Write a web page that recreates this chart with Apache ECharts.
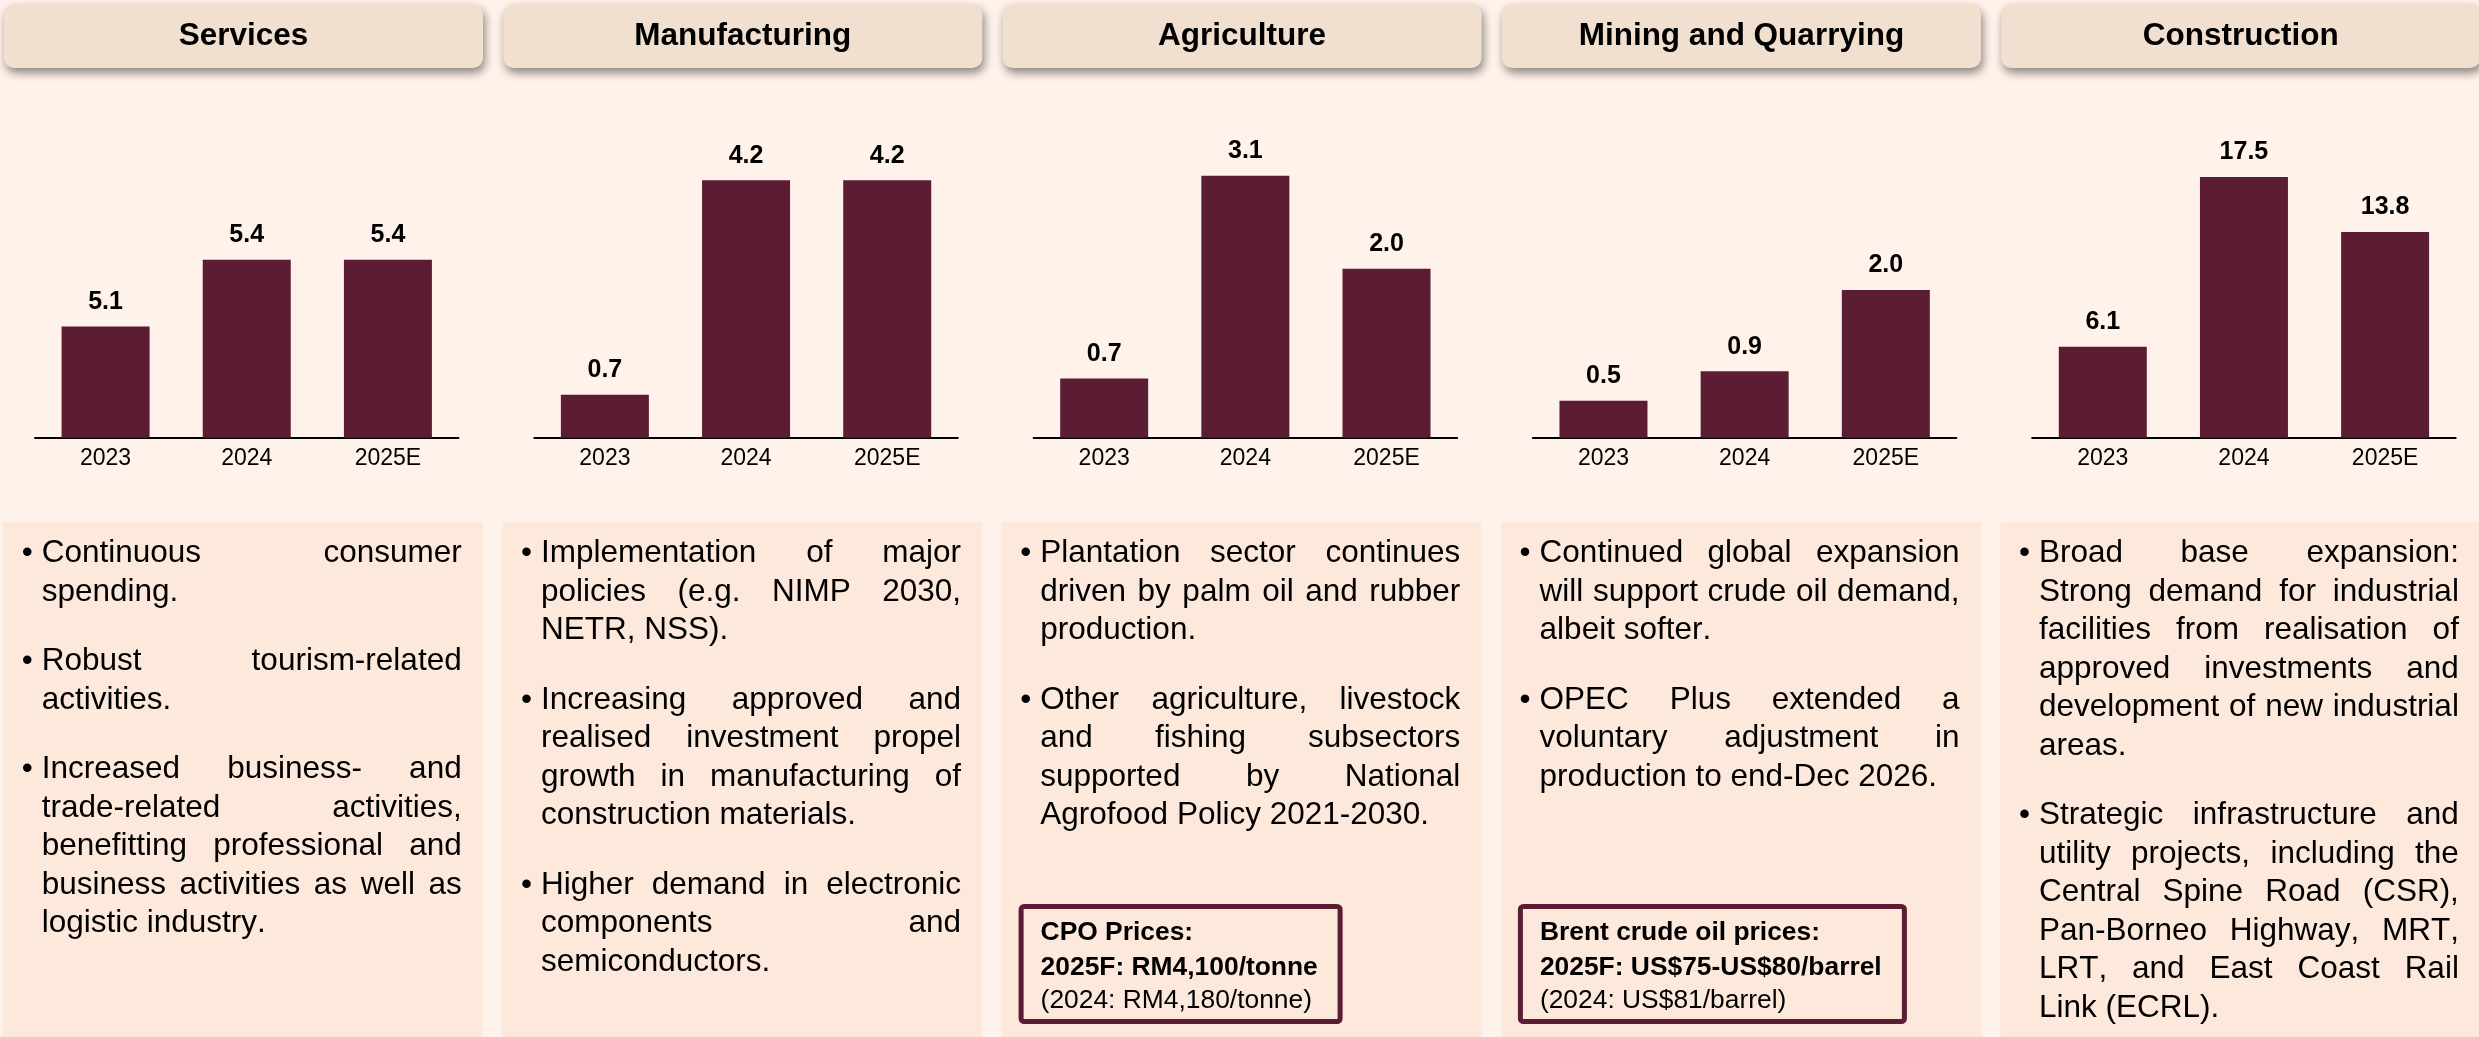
<!doctype html>
<html>
<head>
<meta charset="utf-8">
<title>Sector growth</title>
<script src="https://cdn.jsdelivr.net/npm/echarts@6/dist/echarts.min.js"></script>
<style>
    html, body { margin: 0; padding: 0; background: #FEF2EA; }
    #wrap { position: relative; width: 2479px; height: 1037px; overflow: hidden; }
    #chart { position: absolute; left: 0; top: 0; width: 2479px; height: 1037px; }
    .notes {
        position: absolute; width: 420px; top: 532px;
        font: 31.5px/38.5px "Liberation Sans", Arial, sans-serif;
        font-kerning: none;
        color: #000; text-align: justify;
    }
    .notes p { margin: 0 0 31px 0; position: relative; }
    .notes p::before { content: "\2022"; position: absolute; left: -20px; top: 0; }
</style>
</head>
<body>
<div id="wrap">
    <div id="chart"></div>
</div>
<script type="text/javascript">
    // data
    var sectors = ['Services', 'Manufacturing', 'Agriculture', 'Mining and Quarrying', 'Construction'];
    var years = ['2023', '2024', '2025E'];
    var services = [5.1, 5.4, 5.4];
    var manufacturing = [0.7, 4.2, 4.2];
    var agriculture = [0.7, 3.1, 2.0];
    var mining = [0.5, 0.9, 2.0];
    var construction = [6.1, 17.5, 13.8];
    // each panel has its own value axis (services axis is cut at 4.6)
    var axisMin = [4.6, 0, 0, 0, 0];
    var axisMax = [5.948, 4.894, 3.55, 4.065, 20.13];

    var servicesNotes = [
        'Continuous consumer spending.',
        'Robust tourism-related activities.',
        'Increased business- and trade-related activities, benefitting professional and business activities as well as logistic industry.'
    ];
    var manufacturingNotes = [
        'Implementation of major policies (e.g. NIMP 2030, NETR, NSS).',
        'Increasing approved and realised investment propel growth in manufacturing of construction materials.',
        'Higher demand in electronic components and semiconductors.'
    ];
    var agricultureNotes = [
        'Plantation sector continues driven by palm oil and rubber production.',
        'Other agriculture, livestock and fishing subsectors supported by National Agrofood Policy 2021-2030.'
    ];
    var miningNotes = [
        'Continued global expansion will support crude oil demand, albeit softer.',
        'OPEC Plus extended a voluntary adjustment in production to end-Dec 2026.'
    ];
    var constructionNotes = [
        'Broad base expansion: Strong demand for industrial facilities from realisation of approved investments and development of new industrial areas.',
        'Strategic infrastructure and utility projects, including the Central Spine Road (CSR), Pan-Borneo Highway, MRT, LRT, and East Coast Rail Link (ECRL).'
    ];
    var cpoBox = ['CPO Prices:', '2025F: RM4,100/tonne', '(2024: RM4,180/tonne)'];
    var brentBox = ['Brent crude oil prices:', '2025F: US$75-US$80/barrel', '(2024: US$81/barrel)'];

    var values = [services, manufacturing, agriculture, mining, construction];
    var notes = [servicesNotes, manufacturingNotes, agricultureNotes, miningNotes, constructionNotes];

    var FONT = '"Liberation Sans", Arial, sans-serif';
    var BAR = '#5B1C34';
    var PITCH = 499.3;

    var grids = [], xAxes = [], yAxes = [], series = [], graphics = [];

    for (var i = 0; i < 5; i++) {
        var px = 3 + i * PITCH;

        // header tab
        graphics.push({
            type: 'rect', z: 1,
            shape: { x: px + 1, y: 4, width: 479, height: 64, r: 10 },
            style: { fill: '#F1DFD0', shadowBlur: 10, shadowOffsetX: 2, shadowOffsetY: 5, shadowColor: 'rgba(0,0,0,0.45)' }
        });
        graphics.push({
            type: 'text', z: 2, x: px + 240.5, y: 36,
            style: { text: sectors[i], font: 'bold 31.5px ' + FONT, fill: '#000', textAlign: 'center', textVerticalAlign: 'middle' }
        });
        // notes panel background
        graphics.push({
            type: 'rect', z: 0,
            shape: { x: px, y: 522, width: 480, height: 520 },
            style: { fill: '#FDE9DB' }
        });

        grids.push({ left: 35 + i * PITCH, top: 137.7, width: 423.5, height: 300, outerBoundsMode: 'none' });
        xAxes.push({
            type: 'category', gridIndex: i, data: years,
            axisLine: { lineStyle: { color: '#000', width: 2 } },
            axisTick: { length: 7, lineStyle: { color: '#000', width: 2 } },
            axisLabel: { color: '#000', fontSize: 23, fontFamily: FONT, margin: 9 }
        });
        yAxes.push({
            type: 'value', gridIndex: i, min: axisMin[i], max: axisMax[i],
            axisLine: { show: false }, axisTick: { show: false },
            axisLabel: { show: false }, splitLine: { show: false }
        });
        series.push({
            type: 'bar', xAxisIndex: i, yAxisIndex: i, data: values[i],
            barWidth: 88,
            itemStyle: { color: BAR },
            label: {
                show: true, position: 'top', distance: 12,
                color: '#000', fontSize: 25, fontWeight: 'bold', fontFamily: FONT,
                formatter: function (p) { return p.value.toFixed(1); }
            },
            silent: true, animation: false
        });
    }

    // price boxes under agriculture and mining
    [[2, cpoBox, 324], [3, brentBox, 389]].forEach(function (b) {
        var bx = 3 + b[0] * PITCH + 17;
        graphics.push({
            type: 'rect', z: 3,
            shape: { x: bx + 2.5, y: 906.5, width: b[2] - 5, height: 115, r: 3 },
            style: { fill: '#FDE9DB', stroke: BAR, lineWidth: 5 }
        });
        var lines = b[1];
        graphics.push({ type: 'text', z: 4, x: bx + 22, y: 919.8,
            style: { text: lines[0], font: 'bold 26.4px ' + FONT, fill: '#000', textVerticalAlign: 'top' } });
        graphics.push({ type: 'text', z: 4, x: bx + 22, y: 954.8,
            style: { text: lines[1], font: 'bold 26.4px ' + FONT, fill: '#000', textVerticalAlign: 'top' } });
        graphics.push({ type: 'text', z: 4, x: bx + 22, y: 987.5,
            style: { text: lines[2], font: '26.4px ' + FONT, fill: '#000', textVerticalAlign: 'top' } });
    });

    var myChart = echarts.init(document.getElementById('chart'));
    var option = {
        backgroundColor: '#FEF2EA',
        animation: false,
        grid: grids,
        xAxis: xAxes,
        yAxis: yAxes,
        series: series,
        graphic: graphics
    };
    myChart.setOption(option);

    // bullet text (justified) laid over the panels
    var wrap = document.getElementById('wrap');
    notes.forEach(function (list, i) {
        var div = document.createElement('div');
        div.className = 'notes';
        div.style.left = (3 + i * PITCH + 38.7) + 'px';
        list.forEach(function (t) {
            var p = document.createElement('p');
            p.textContent = t;
            div.appendChild(p);
        });
        wrap.appendChild(div);
    });
</script>
</body>
</html>
